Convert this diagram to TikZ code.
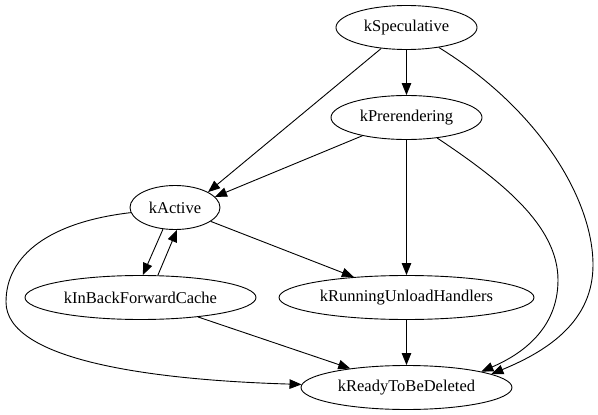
\documentclass[tikz,border=0pt]{standalone}
\usepackage{fontspec}
\setmainfont{Liberation Serif}
\newfontfamily\statefont{Liberation Serif}
\usetikzlibrary{arrows.meta,shapes.geometric}

\begin{document}
\begin{tikzpicture}[
        x=1pt, y=-1pt,
        every node/.style={
            font=\statefont\fontsize{16.5}{19}\selectfont
        },
        state/.style={
            draw, ellipse, line width=0.9pt, inner sep=0pt, minimum height=44pt
        },
        edge/.style={
            line width=0.9pt, -{Triangle[length=12pt, width=9.5pt]}
        }
    ]
        \useasboundingbox (0,0) rectangle (598,415);

        % STATES
        \node[state, minimum width=141pt] (spec) at (406.5,27.5) {kSpeculative};
        \node[state, minimum width=151pt] (prer) at (406.5,117.5) {kPrerendering};
        \node[state, minimum width=90pt] (active) at (175,207.5) {kActive};
        \node[state, minimum width=231pt] (bfcache) at (140.5,297.5) {kInBackForwardCache};
        \node[state, minimum width=255pt] (unload) at (406.5,297.5) {kRunningUnloadHandlers};
        \node[state, minimum width=211pt] (ready) at (406.5,387.5) {kReadyToBeDeleted};

        % STRAIGHT EDGES
        \draw[edge] (spec) -- (prer);
        \draw[edge] (spec) -- (active.25);
        \draw[edge] (prer) -- (active.15);
        \draw[edge] (prer) -- (unload);
        \draw[edge] (active.241) -- (bfcache.84);
        \draw[edge] (bfcache.52) -- (active.275);
        \draw[edge] (active) -- (unload);
        \draw[edge] (bfcache) -- (ready);
        \draw[edge] (unload) -- (ready);

        % CURVED EDGES
        \draw[edge] (spec) .. controls (540,110) and (593,200) .. (593,265)
            .. controls (593,320) and (550,350) .. (ready.9);
        \draw[edge] (prer) .. controls (500,180) and (558,225) .. (558,280)
            .. controls (558,330) and (520,355) .. (ready.12);
        \draw[edge] (active) .. controls (50,222) and (6,255) .. (6,302)
            .. controls (6,360) and (150,380) .. (ready);
    \end{tikzpicture}
\end{document}
